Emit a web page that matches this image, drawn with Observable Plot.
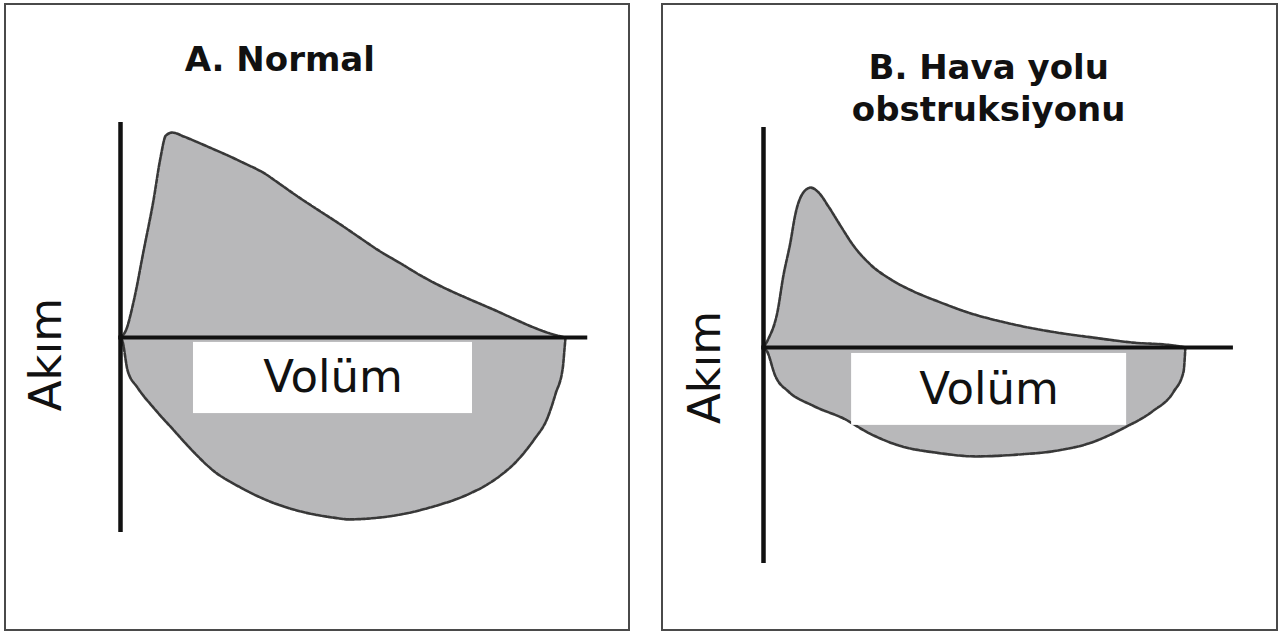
<!DOCTYPE html>
<html><head><meta charset="utf-8">
<script src="https://cdn.jsdelivr.net/npm/d3@7"></script>
<script src="https://cdn.jsdelivr.net/npm/@observablehq/plot@0.6"></script>
<style>
body{margin:0;background:#fff;width:1283px;height:634px;overflow:hidden;position:relative;font-family:"DejaVu Sans",Verdana,sans-serif}
.chart{position:absolute;top:0}
.frame{position:absolute;border:2px solid #4a4a4a;box-sizing:border-box;pointer-events:none}
</style></head><body>
<div id="a" class="chart" style="left:0;width:640px;height:634px"></div>
<div id="b" class="chart" style="left:640px;width:643px;height:634px"></div>
<div class="frame" style="left:4px;top:3px;width:626px;height:628px"></div>
<div class="frame" style="left:661px;top:3px;width:617px;height:628px"></div>
<script>
// ---- text ----
const titles = ["A. Normal", "B. Hava yolu\nobstruksiyonu"];
const flowLabel = "Akım";
const volumeLabel = "Volüm";

// ---- Panel A: normal flow-volume loop (volume in L, flow in L/s) ----
const expVolA  = [0, 0.06, 0.15, 0.26, 0.37, 0.45, 0.51, 0.58, 0.71, 0.87, 1.03, 1.21, 1.40, 1.60, 1.80, 1.99, 2.21, 2.47, 2.70, 2.92, 3.15, 3.37, 3.63, 3.90, 4.19, 4.46, 4.64, 4.83, 5.00];
const expFlowA = [0, 0.27, 1.43, 3.36, 5.29, 6.96, 7.81, 7.92, 7.77, 7.54, 7.30, 7.03, 6.72, 6.38, 5.91, 5.45, 4.95, 4.37, 3.83, 3.32, 2.86, 2.40, 1.93, 1.51, 1.08, 0.66, 0.39, 0.15, 0];
const inspVolA  = [0, 0.02, 0.08, 0.19, 0.37, 0.60, 0.82, 1.04, 1.35, 1.65, 2.02, 2.39, 2.58, 2.78, 3.15, 3.52, 3.90, 4.19, 4.46, 4.64, 4.80, 4.89, 4.97, 4.99, 5.00];
const inspFlowA = [0, -0.12, -1.28, -1.93, -2.71, -3.59, -4.42, -5.14, -5.80, -6.30, -6.72, -6.96, -7.03, -7.00, -6.84, -6.53, -6.07, -5.53, -4.75, -3.98, -3.09, -2.16, -1.16, -0.40, 0];

// ---- Panel B: airway obstruction loop ----
const expVolB  = [0, 0.05, 0.16, 0.22, 0.30, 0.36, 0.44, 0.53, 0.62, 0.73, 0.87, 1.01, 1.20, 1.43, 1.69, 1.96, 2.30, 2.76, 3.22, 3.69, 4.15, 4.61, 4.74];
const expFlowB = [0, 0.30, 1.43, 2.71, 4.02, 5.18, 5.95, 6.18, 5.99, 5.45, 4.68, 3.94, 3.21, 2.63, 2.16, 1.78, 1.35, 0.93, 0.62, 0.39, 0.19, 0.08, 0];
const inspVolB  = [0, 0.04, 0.13, 0.28, 0.55, 0.92, 1.19, 1.56, 1.93, 2.39, 2.85, 3.31, 3.69, 4.06, 4.37, 4.61, 4.72, 4.735, 4.74];
const inspFlowB = [0, -0.15, -1.08, -1.70, -2.24, -2.78, -3.32, -3.83, -4.06, -4.21, -4.14, -3.98, -3.67, -3.09, -2.47, -1.70, -0.93, -0.31, 0];

const toRows = (vs, fs) => vs.map((v, i) => ({v, f: fs[i]}));

// layout (annotation positions in data units; scale ranges in px)
const layouts = [
  {el: "#a", width: 640, xRange: [120, 565], yRange: [337, 130], vAxis: [-7.54, 8.31], hEnd: 5.25,
   box: [0.82, 3.955, -0.19, -2.94], title: [1.79, 10.82], flowPos: [-0.825, -0.66],
   exp: toRows(expVolA, expFlowA), insp: toRows(inspVolA, inspFlowA), title_i: 0},
  {el: "#b", width: 643, xRange: [123, 568], yRange: [347, 140], vAxis: [-8.35, 8.5], hEnd: 5.28,
   box: [0.99, 4.08, -0.23, -3.01], title: [2.53, 10.1], flowPos: [-0.65, -0.77],
   exp: toRows(expVolB, expFlowB), insp: toRows(inspVolB, inspFlowB), title_i: 1}
];

const fillGray = "#b8b8ba";
const outline = "#383838";
const ink = "#111";
const font = "DejaVu Sans, Verdana, sans-serif";

for (const L of layouts) {
  const chart = Plot.plot({
    width: L.width, height: 634,
    margin: 0,
    style: {background: "transparent"},
    x: {domain: [0, 5], range: L.xRange, axis: null},
    y: {domain: [0, 8], range: L.yRange, axis: null},
    marks: [
      Plot.areaY(L.exp, {x: "v", y: "f", fill: fillGray, curve: "monotone-x"}),
      Plot.areaY(L.insp, {x: "v", y: "f", fill: fillGray, curve: "monotone-x"}),
      Plot.line(L.exp, {x: "v", y: "f", stroke: outline, strokeWidth: 2.6, curve: "monotone-x", strokeDasharray: "4,1.5"}),
      Plot.line(L.insp, {x: "v", y: "f", stroke: outline, strokeWidth: 2.6, curve: "monotone-x", strokeDasharray: "4,1.5"}),
      Plot.ruleX([0], {y1: L.vAxis[0], y2: L.vAxis[1], stroke: ink, strokeWidth: 4.5}),
      Plot.ruleY([0], {x1: -0.02, x2: L.hEnd, stroke: ink, strokeWidth: 4}),
      Plot.rect([L.box], {x1: d => d[0], x2: d => d[1], y1: d => d[2], y2: d => d[3], fill: "white"}),
      Plot.text([volumeLabel], {x: (L.box[0] + L.box[1]) / 2, y: (L.box[2] + L.box[3]) / 2,
        text: d => d, fontSize: 45, fontFamily: font, fill: ink, textAnchor: "middle", lineAnchor: "middle"}),
      Plot.text([flowLabel], {x: L.flowPos[0], y: L.flowPos[1], text: d => d, rotate: -90,
        fontSize: 45, fontFamily: font, fill: ink, textAnchor: "middle", lineAnchor: "middle"}),
      Plot.text([titles[L.title_i]], {x: L.title[0], y: L.title[1], text: d => d,
        fontSize: 34, fontWeight: "bold", fontFamily: font, fill: ink, textAnchor: "middle", lineAnchor: "middle", lineHeight: 1.235})
    ]
  });
  document.querySelector(L.el).append(chart);
}
</script>
</body></html>
